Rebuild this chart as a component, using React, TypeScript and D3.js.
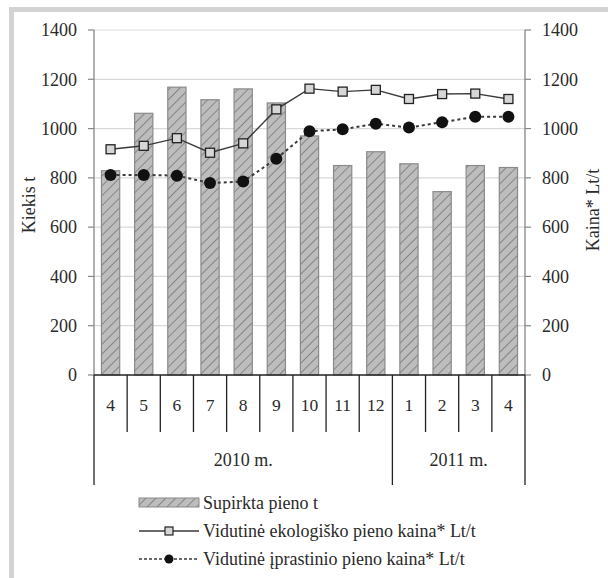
import React from "react";
import * as d3 from "d3";

const months = ["4", "5", "6", "7", "8", "9", "10", "11", "12", "1", "2", "3", "4"];
const years = [
  { label: "2010 m.", from: 0, to: 9 },
  { label: "2011 m.", from: 9, to: 13 },
];
const purchased = [829, 1062, 1168, 1117, 1161, 1104, 970, 850, 906, 857, 744, 850, 842];
const ecoPrice = [916, 930, 961, 902, 940, 1078, 1162, 1150, 1157, 1120, 1140, 1142, 1120];
const usualPrice = [812, 812, 809, 779, 785, 878, 989, 997, 1020, 1004, 1026, 1048, 1048];
const yTicks = [0, 200, 400, 600, 800, 1000, 1200, 1400];
const legendLabels = [
  "Supirkta pieno t",
  "Vidutinė ekologiško pieno kaina* Lt/t",
  "Vidutinė įprastinio pieno kaina* Lt/t",
];

const W = 608;
const H = 578;
const FONT = "'Liberation Serif', 'Times New Roman', serif";

export default function App() {
  const idx = months.map((_, i) => i);
  const x = d3.scaleBand<number>().domain(idx).range([94, 525]).paddingInner(0).paddingOuter(0);
  const y = d3.scaleLinear().domain([0, 1400]).range([375, 30]);
  const bw = x.bandwidth();
  const barW = bw * 0.55;
  const cx = (i: number) => (x(i) as number) + bw / 2;

  const line = d3
    .line<number>()
    .x((_, i) => cx(i))
    .y((d) => y(d));

  const axisColor = "#868686";
  const gridColor = "#d9d9d9";
  const lineColor = "#3a3a3a";
  const textColor = "#2a2a2a";

  const legendY = [502.5, 531, 559];
  const lx0 = 139;
  const lx1 = 199;
  const lmid = (lx0 + lx1) / 2;

  return (
    <svg width={W} height={H} style={{ position: "absolute", left: 0, top: 0 }} fontFamily={FONT}>
      <defs>
        <pattern id="hatch" patternUnits="userSpaceOnUse" width="7" height="7" patternTransform="rotate(45)">
          <rect width="7" height="7" fill="#bdbdbd" />
          <line x1="0" y1="0" x2="0" y2="7" stroke="#858585" strokeWidth="2" />
        </pattern>
      </defs>
      <rect x={0} y={0} width={W} height={H} fill="#fff" />
      {/* frame */}
      <rect x={9} y={7} width={W - 9} height={5} fill="#d3d3d3" />
      <rect x={9} y={7} width={5} height={H - 7} fill="#d3d3d3" />

      {/* gridlines */}
      {yTicks.map((t) => (
        <line key={"g" + t} x1={94} x2={525} y1={y(t)} y2={y(t)} stroke={t === 0 ? "none" : gridColor} strokeWidth={1.2} />
      ))}

      {/* bars */}
      {purchased.map((v, i) => (
        <rect
          key={"b" + i}
          x={cx(i) - barW / 2}
          y={y(v)}
          width={barW}
          height={y(0) - y(v)}
          fill="url(#hatch)"
          stroke="#8a8a8a"
          strokeWidth={1.2}
        />
      ))}

      {/* y axes */}
      <line x1={94} x2={94} y1={30} y2={375} stroke={axisColor} strokeWidth={1.3} />
      <line x1={525} x2={525} y1={30} y2={375} stroke={axisColor} strokeWidth={1.3} />
      {yTicks.map((t) => (
        <g key={"t" + t}>
          <line x1={88} x2={94} y1={y(t)} y2={y(t)} stroke={axisColor} strokeWidth={1.2} />
          <line x1={525} x2={531} y1={y(t)} y2={y(t)} stroke={axisColor} strokeWidth={1.2} />
          <text x={77} y={y(t)} dy="0.35em" textAnchor="end" fontSize={18} fill={textColor}>
            {t}
          </text>
          <text x={542} y={y(t)} dy="0.35em" textAnchor="start" fontSize={18} fill={textColor}>
            {t}
          </text>
        </g>
      ))}

      {/* axis titles */}
      <text transform={`translate(35,205) rotate(-90)`} textAnchor="middle" fontSize={18} fill={textColor}>
        Kiekis t
      </text>
      <text transform={`translate(599,210) rotate(-90)`} textAnchor="middle" fontSize={18} fill={textColor}>
        Kaina* Lt/t
      </text>

      {/* lines */}
      <path d={line(ecoPrice) || ""} fill="none" stroke={lineColor} strokeWidth={1.4} />
      <path d={line(usualPrice) || ""} fill="none" stroke={lineColor} strokeWidth={2} strokeDasharray="3,3" />
      {ecoPrice.map((v, i) => (
        <rect key={"s" + i} x={cx(i) - 4.5} y={y(v) - 4.5} width={9} height={9} fill="#d6d6d6" stroke="#222" strokeWidth={1.3} />
      ))}
      {usualPrice.map((v, i) => (
        <circle key={"c" + i} cx={cx(i)} cy={y(v)} r={6} fill="#111" />
      ))}

      {/* category axis */}
      <line x1={94} x2={525} y1={375} y2={375} stroke="#222" strokeWidth={1.3} />
      {d3.range(months.length + 1).map((k) => {
        const xx = k < months.length ? (x(k) as number) : 525;
        const long = k === 0 || k === months.length || years.some((yr) => yr.from === k);
        return <line key={"d" + k} x1={xx} x2={xx} y1={375} y2={long ? 485 : 432} stroke="#222" strokeWidth={1.3} />;
      })}
      {months.map((m, i) => (
        <text key={"m" + i} x={cx(i)} y={405} dy="0.35em" textAnchor="middle" fontSize={17.5} fill={textColor}>
          {m}
        </text>
      ))}
      {years.map((yr) => (
        <text
          key={yr.label}
          x={((x(yr.from) as number) + (yr.to < months.length ? (x(yr.to) as number) : 525)) / 2}
          y={460}
          dy="0.35em"
          textAnchor="middle"
          fontSize={18}
          fill={textColor}
        >
          {yr.label}
        </text>
      ))}

      {/* legend */}
      <rect x={lx0} y={legendY[0] - 4.5} width={lx1 - lx0} height={9} fill="url(#hatch)" stroke="#8a8a8a" strokeWidth={1} />
      <line x1={lx0} x2={lx1} y1={legendY[1]} y2={legendY[1]} stroke={lineColor} strokeWidth={1.4} />
      <rect x={lmid - 4} y={legendY[1] - 4} width={8} height={8} fill="#d6d6d6" stroke="#222" strokeWidth={1.2} />
      <line x1={lx0} x2={lx1} y1={legendY[2]} y2={legendY[2]} stroke={lineColor} strokeWidth={1.4} strokeDasharray="3,2" />
      <circle cx={lmid} cy={legendY[2]} r={4.5} fill="#111" />
      {legendLabels.map((l, i) => (
        <text key={l} x={203} y={legendY[i]} dy="0.35em" fontSize={18} fill={textColor}>
          {l}
        </text>
      ))}
    </svg>
  );
}
